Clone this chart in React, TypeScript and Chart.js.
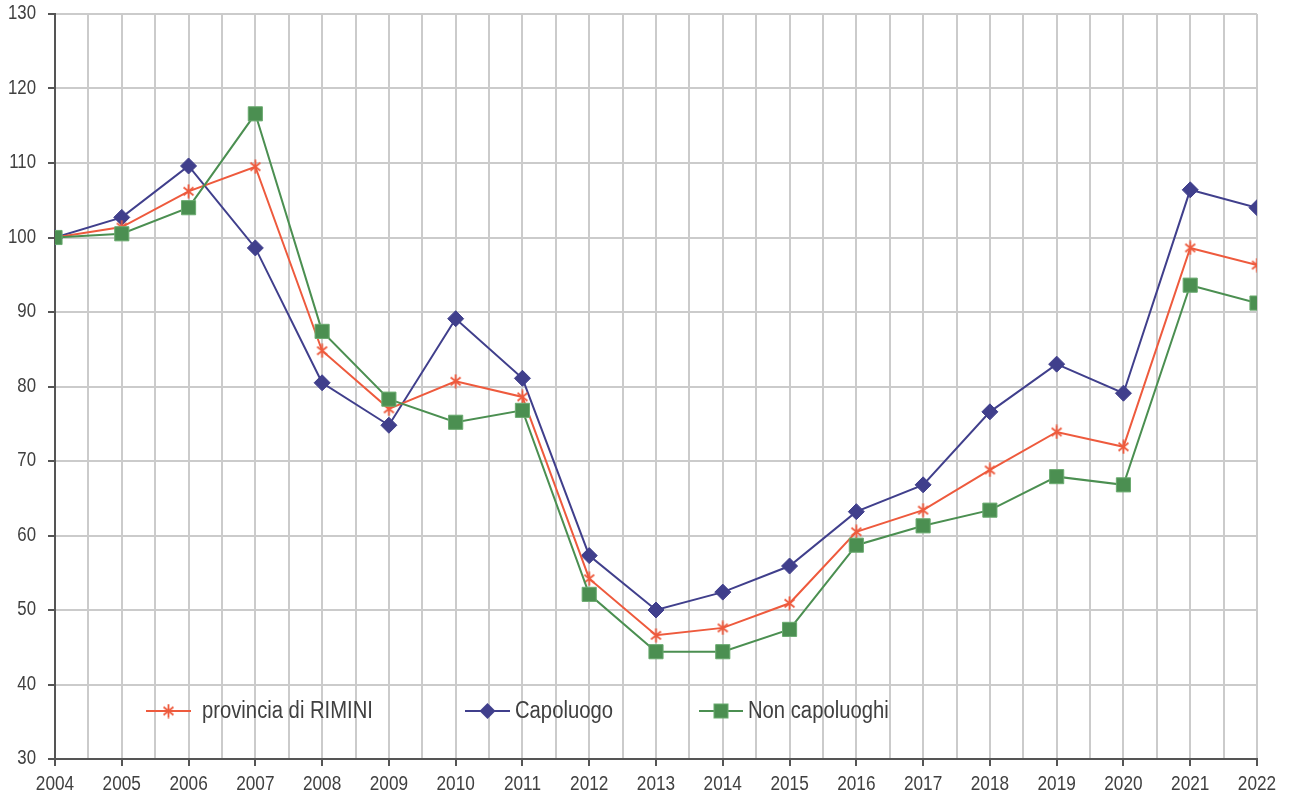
import React, { useEffect, useRef } from "react";
import { Chart, registerables } from "chart.js";

Chart.register(...registerables);

const years = [2004, 2005, 2006, 2007, 2008, 2009, 2010, 2011, 2012, 2013, 2014, 2015, 2016, 2017, 2018, 2019, 2020, 2021, 2022];
const provincia = [100, 101.4, 106.2, 109.5, 84.8, 77.0, 80.7, 78.6, 54.2, 46.6, 47.6, 50.9, 60.5, 63.4, 68.8, 73.9, 71.9, 98.6, 96.3];
const capoluogo = [100, 102.7, 109.6, 98.6, 80.5, 74.8, 89.1, 81.1, 57.3, 50.0, 52.4, 55.9, 63.2, 66.8, 76.6, 83.0, 79.1, 106.4, 104.0];
const nonCapoluoghi = [100, 100.5, 104.0, 116.6, 87.4, 78.3, 75.2, 76.8, 52.1, 44.4, 44.4, 47.4, 58.7, 61.3, 63.4, 67.9, 66.8, 93.6, 91.2];
const seriesNames = ["provincia di RIMINI", "Capoluogo", "Non capoluoghi"];
const yTicks = [30, 40, 50, 60, 70, 80, 90, 100, 110, 120, 130];

const RED = "#ee5a3d";
const BLUE = "#403f8c";
const GREEN = "#4b8f51";
const GREEN_BORDER = "#6bab70";
const TEXT = "#404040";
const AXIS = "#555555";
const GRID = "#cbcbcb";
const FONT = "'Liberation Sans', Arial, sans-serif";

function makeStar(size: number, color: string, lw: number): HTMLCanvasElement {
  const c = document.createElement("canvas");
  c.width = size;
  c.height = size;
  const g = c.getContext("2d")!;
  g.strokeStyle = color;
  g.lineWidth = lw;
  g.lineCap = "butt";
  const m = size / 2;
  const r = size / 2 - 0.5;
  g.beginPath();
  g.moveTo(m, m - r);
  g.lineTo(m, m + r);
  const a = Math.PI / 4;
  const dx = Math.cos(a) * r;
  const dy = Math.sin(a) * r * 0.8;
  g.moveTo(m - dx, m - dy);
  g.lineTo(m + dx, m + dy);
  g.moveTo(m + dx, m - dy);
  g.lineTo(m - dx, m + dy);
  g.stroke();
  return c;
}

function toXY(vals: number[]) {
  return years.map((x, i) => ({ x, y: vals[i] }));
}

function drawText(
  ctx: CanvasRenderingContext2D,
  text: string,
  x: number,
  y: number,
  align: CanvasTextAlign,
  size: number,
  sx: number
) {
  ctx.save();
  ctx.font = `${size}px ${FONT}`;
  ctx.fillStyle = TEXT;
  ctx.textAlign = align;
  ctx.textBaseline = "middle";
  ctx.translate(x, y);
  ctx.scale(sx, 1);
  ctx.fillText(text, 0, 0);
  ctx.restore();
}

export default function App() {
  const ref = useRef<HTMLCanvasElement | null>(null);

  useEffect(() => {
    document.body.style.margin = "0";
    const canvas = ref.current;
    if (!canvas) return;
    const star = makeStar(15, RED, 1.8);

    const labelsPlugin = {
      id: "condensedLabels",
      afterDraw(chart: any) {
        const ctx = chart.ctx as CanvasRenderingContext2D;
        const xs = chart.scales.x;
        const ys = chart.scales.y;
        for (const v of yTicks) {
          drawText(ctx, String(v), 36, ys.getPixelForValue(v) - 0.5, "right", 20, 0.84);
        }
        for (const yr of years) {
          drawText(ctx, String(yr), xs.getPixelForValue(yr), 784.5, "center", 20.5, 0.84);
        }

        const y = 711;
        const items = [
          { x0: 146, x1: 191, tx: 202, color: RED, kind: "star", label: seriesNames[0] },
          { x0: 465, x1: 510, tx: 515, color: BLUE, kind: "diamond", label: seriesNames[1] },
          { x0: 699, x1: 743, tx: 748, color: GREEN, kind: "square", label: seriesNames[2] },
        ];
        ctx.save();
        for (const it of items) {
          ctx.strokeStyle = it.color;
          ctx.lineWidth = 2;
          ctx.beginPath();
          ctx.moveTo(it.x0, y);
          ctx.lineTo(it.x1, y);
          ctx.stroke();
          const cx = (it.x0 + it.x1) / 2;
          if (it.kind === "star") {
            ctx.drawImage(star, cx - star.width / 2, y - star.height / 2);
          } else if (it.kind === "diamond") {
            ctx.fillStyle = it.color;
            ctx.beginPath();
            ctx.moveTo(cx, y - 8);
            ctx.lineTo(cx + 8, y);
            ctx.lineTo(cx, y + 8);
            ctx.lineTo(cx - 8, y);
            ctx.closePath();
            ctx.fill();
          } else {
            ctx.fillStyle = it.color;
            ctx.fillRect(cx - 7, y - 7, 14, 14);
            ctx.strokeStyle = GREEN_BORDER;
            ctx.lineWidth = 1;
            ctx.strokeRect(cx - 7, y - 7, 14, 14);
          }
          drawText(ctx, it.label, it.tx, y + 1, "left", 23, 0.88);
        }
        ctx.restore();
      },
    };

    const chart = new Chart(canvas, {
      type: "line",
      data: {
        datasets: [
          {
            label: seriesNames[0],
            data: toXY(provincia),
            borderColor: RED,
            backgroundColor: RED,
            borderWidth: 2,
            pointStyle: star as any,
            pointRadius: 7,
            order: 1,
          },
          {
            label: seriesNames[1],
            data: toXY(capoluogo),
            borderColor: BLUE,
            backgroundColor: BLUE,
            borderWidth: 2,
            pointStyle: "rectRot",
            pointRadius: 8,
            pointBorderWidth: 1,
            order: 2,
          },
          {
            label: seriesNames[2],
            data: toXY(nonCapoluoghi),
            borderColor: GREEN,
            backgroundColor: GREEN,
            pointBorderColor: GREEN_BORDER,
            borderWidth: 2,
            pointStyle: "rect",
            pointRadius: 10,
            pointBorderWidth: 1,
            order: 0,
          },
        ],
      },
      options: {
        animation: false,
        responsive: false,
        maintainAspectRatio: false,
        layout: { padding: { top: 14, right: 33, left: 0, bottom: 0 } },
        font: { family: FONT },
        plugins: {
          legend: { display: false },
          tooltip: { enabled: false },
        },
        scales: {
          x: {
            type: "linear",
            min: years[0],
            max: years[years.length - 1],
            afterBuildTicks: (scale: any) => {
              const t = [];
              for (let v = years[0]; v <= years[years.length - 1] + 1e-9; v += 0.5) t.push({ value: v });
              scale.ticks = t;
            },
            afterFit: (scale: any) => {
              scale.height = 39;
            },
            ticks: { display: false, autoSkip: false },
            grid: {
              color: GRID,
              lineWidth: 2,
              tickLength: 7,
              tickColor: (ctx: any) => (ctx.tick && Number.isInteger(ctx.tick.value) ? AXIS : "rgba(0,0,0,0)"),
              tickWidth: 2,
            },
            border: { color: AXIS, width: 2 },
          },
          y: {
            min: yTicks[0],
            max: yTicks[yTicks.length - 1],
            afterBuildTicks: (scale: any) => {
              scale.ticks = yTicks.map((v) => ({ value: v }));
            },
            afterFit: (scale: any) => {
              scale.width = 55;
            },
            ticks: { display: false },
            grid: {
              color: GRID,
              lineWidth: 2,
              tickLength: 7,
              tickColor: AXIS,
              tickWidth: 2,
            },
            border: { color: AXIS, width: 2 },
          },
        },
      } as any,
      plugins: [labelsPlugin],
    });

    return () => {
      chart.destroy();
    };
  }, []);

  return (
    <div style={{ position: "fixed", left: 0, top: 0, width: 1290, height: 798, background: "#ffffff" }}>
      <canvas ref={ref} width={1290} height={798} style={{ display: "block", width: 1290, height: 798 }} />
    </div>
  );
}
